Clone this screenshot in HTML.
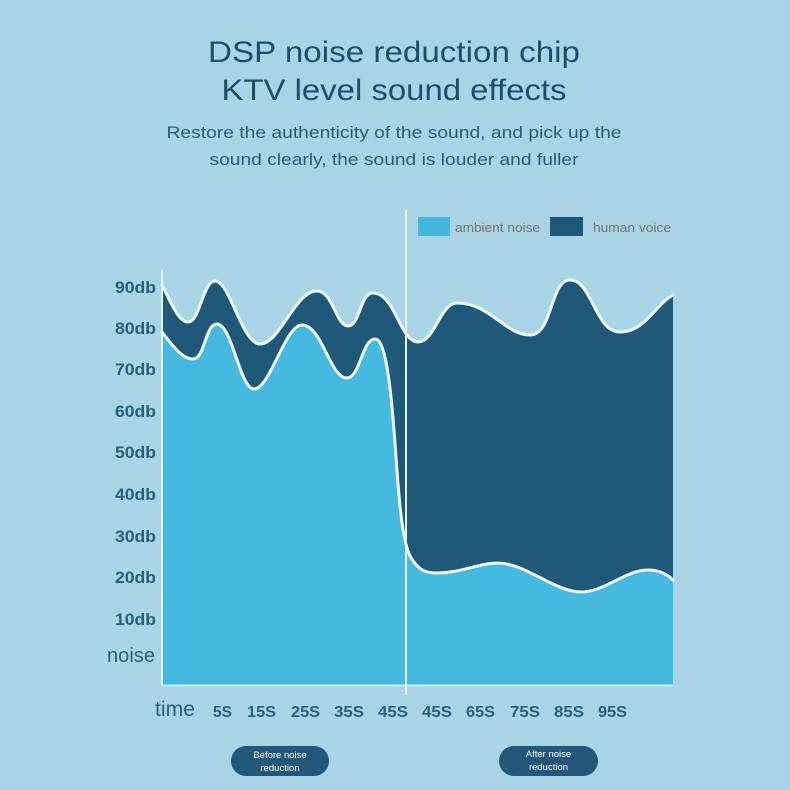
<!DOCTYPE html>
<html>
<head>
<meta charset="utf-8">
<style>
  html,body{margin:0;padding:0;background:#a9d4e5;}
  svg{display:block;}
  text{font-family:"Liberation Sans",sans-serif;}
</style>
</head>
<body>
<svg width="790" height="790" viewBox="0 0 790 790" xmlns="http://www.w3.org/2000/svg">
  <rect x="0" y="0" width="790" height="790" fill="#a9d4e5"/>

  <!-- Title -->
  <text x="394" y="62" text-anchor="middle" font-size="30" fill="#1d4e6d" textLength="372" lengthAdjust="spacingAndGlyphs">DSP noise reduction chip</text>
  <text x="394" y="100" text-anchor="middle" font-size="30" fill="#1d4e6d" textLength="345" lengthAdjust="spacingAndGlyphs">KTV level sound effects</text>
  <text x="394" y="138" text-anchor="middle" font-size="16.5" fill="#2a5c7a" textLength="455" lengthAdjust="spacingAndGlyphs">Restore the authenticity of the sound, and pick up the</text>
  <text x="394" y="165" text-anchor="middle" font-size="16.5" fill="#2a5c7a" textLength="369" lengthAdjust="spacingAndGlyphs">sound clearly, the sound is louder and fuller</text>

  <!-- Legend -->
  <rect x="418" y="217" width="32" height="19" fill="#45b7de"/>
  <text x="455" y="232" font-size="13" fill="#7a6f6f" textLength="85" lengthAdjust="spacingAndGlyphs">ambient noise</text>
  <rect x="550" y="217" width="33" height="19" fill="#1f5878"/>
  <text x="593" y="232" font-size="13" fill="#7a6f6f" textLength="78" lengthAdjust="spacingAndGlyphs">human voice</text>

  <!-- Voice (dark) fill -->
  <path d="M162,285
           C170,300 178,322 188,322
           C200,322 203,281 215,281
           C230,281 242,344 260,344
           C280,344 295,291 317,291
           C333,291 336,326 348,326
           C360,326 360,293 373,293
           C395,293 400,342 418,342
           C435,342 440,303 457,303
           C490,303 505,335 530,335
           C553,335 550,280 570,280
           C592,280 595,332 620,332
           C645,332 655,305 673,295
           L673,685 L162,685 Z" fill="#1f5878"/>

  <!-- Ambient (light) fill -->
  <path d="M162,332
           C172,345 182,359 193,359
           C205,359 205,324 217,324
           C232,324 240,389 254,389
           C270,389 285,325 302,325
           C322,325 330,378 347,378
           C360,378 362,339 375,339
           C385,339 390,380 394,430
           C398,480 400,535 410,556
           C418,570 425,573 437,573
           C460,573 480,563 498,563
           C525,563 555,592 581,592
           C605,592 625,570 648,570
           C660,570 668,575 673,580
           L673,685 L162,685 Z" fill="#45b9df"/>

  <!-- White strokes -->
  <path d="M162,285
           C170,300 178,322 188,322
           C200,322 203,281 215,281
           C230,281 242,344 260,344
           C280,344 295,291 317,291
           C333,291 336,326 348,326
           C360,326 360,293 373,293
           C395,293 400,342 418,342
           C435,342 440,303 457,303
           C490,303 505,335 530,335
           C553,335 550,280 570,280
           C592,280 595,332 620,332
           C645,332 655,305 673,295" fill="none" stroke="#eef8fb" stroke-width="3" stroke-linecap="round"/>
  <path d="M162,332
           C172,345 182,359 193,359
           C205,359 205,324 217,324
           C232,324 240,389 254,389
           C270,389 285,325 302,325
           C322,325 330,378 347,378
           C360,378 362,339 375,339
           C385,339 390,380 394,430
           C398,480 400,535 410,556
           C418,570 425,573 437,573
           C460,573 480,563 498,563
           C525,563 555,592 581,592
           C605,592 625,570 648,570
           C660,570 668,575 673,580" fill="none" stroke="#eef8fb" stroke-width="3" stroke-linecap="round"/>

  <!-- Axes -->
  <line x1="162" y1="270" x2="162" y2="686" stroke="#e6f4f9" stroke-width="2"/>
  <line x1="162" y1="685.5" x2="673" y2="685.5" stroke="#d6eef6" stroke-width="2"/>
  <line x1="406" y1="210" x2="406" y2="695" stroke="#e2f3f9" stroke-width="2"/>

  <!-- Y labels -->
  <g font-size="16.5" font-weight="bold" fill="#2b5e7d" text-anchor="end">
    <text x="156" y="293" textLength="41" lengthAdjust="spacingAndGlyphs">90db</text>
    <text x="156" y="334" textLength="41" lengthAdjust="spacingAndGlyphs">80db</text>
    <text x="156" y="375" textLength="41" lengthAdjust="spacingAndGlyphs">70db</text>
    <text x="156" y="417" textLength="41" lengthAdjust="spacingAndGlyphs">60db</text>
    <text x="156" y="458" textLength="41" lengthAdjust="spacingAndGlyphs">50db</text>
    <text x="156" y="500" textLength="41" lengthAdjust="spacingAndGlyphs">40db</text>
    <text x="156" y="542" textLength="41" lengthAdjust="spacingAndGlyphs">30db</text>
    <text x="156" y="583" textLength="41" lengthAdjust="spacingAndGlyphs">20db</text>
    <text x="156" y="625" textLength="41" lengthAdjust="spacingAndGlyphs">10db</text>
  </g>
  <text x="107" y="662" font-size="20" fill="#2b5e7d" textLength="48" lengthAdjust="spacingAndGlyphs">noise</text>

  <!-- X labels -->
  <text x="155" y="716" font-size="21" fill="#2b5e7d" textLength="40" lengthAdjust="spacingAndGlyphs">time</text>
  <g font-size="16" font-weight="bold" fill="#2b5e7d">
    <text x="213" y="717" textLength="19" lengthAdjust="spacingAndGlyphs">5S</text>
    <text x="247" y="717" textLength="29" lengthAdjust="spacingAndGlyphs">15S</text>
    <text x="291" y="717" textLength="29" lengthAdjust="spacingAndGlyphs">25S</text>
    <text x="334" y="717" textLength="30" lengthAdjust="spacingAndGlyphs">35S</text>
    <text x="378" y="717" textLength="30" lengthAdjust="spacingAndGlyphs">45S</text>
    <text x="422" y="717" textLength="30" lengthAdjust="spacingAndGlyphs">45S</text>
    <text x="466" y="717" textLength="29" lengthAdjust="spacingAndGlyphs">65S</text>
    <text x="510" y="717" textLength="30" lengthAdjust="spacingAndGlyphs">75S</text>
    <text x="554" y="717" textLength="30" lengthAdjust="spacingAndGlyphs">85S</text>
    <text x="598" y="717" textLength="29" lengthAdjust="spacingAndGlyphs">95S</text>
  </g>

  <!-- Buttons -->
  <rect x="231" y="746" width="98" height="30" rx="15" ry="15" fill="#235878"/>
  <text x="280" y="758" font-size="9.5" fill="#ffffff" text-anchor="middle">Before noise</text>
  <text x="280" y="771" font-size="9.5" fill="#ffffff" text-anchor="middle">reduction</text>
  <rect x="499" y="746" width="99" height="30" rx="15" ry="15" fill="#235878"/>
  <text x="548.5" y="757" font-size="9.5" fill="#ffffff" text-anchor="middle">After noise</text>
  <text x="548.5" y="770" font-size="9.5" fill="#ffffff" text-anchor="middle">reduction</text>
</svg>
</body>
</html>
